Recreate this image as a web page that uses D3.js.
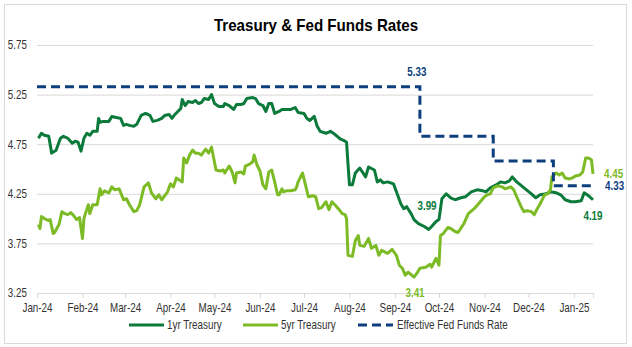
<!DOCTYPE html>
<html lang="en">
  <head>
    <meta charset="utf-8"/>
    <title>Treasury &amp; Fed Funds Rates</title>
    <script src="https://cdn.jsdelivr.net/npm/d3@7"></script>
    <style>
      body { margin: 0; background: #fff; }
      text { font-family: "Liberation Sans", Arial, sans-serif; }
    </style>
  </head>

  <body>
    <div id="chart-holder"></div>
    <script type="text/javascript">

      // 1yr Treasury yield (%)
      var oneYrDates = [
        "2024-01-02","2024-01-04","2024-01-06","2024-01-09","2024-01-11","2024-01-14","2024-01-17","2024-01-19","2024-01-22","2024-01-25","2024-01-27","2024-01-29","2024-01-31",
        "2024-02-02","2024-02-04","2024-02-06","2024-02-08","2024-02-11","2024-02-12","2024-02-13","2024-02-15","2024-02-19","2024-02-21","2024-02-24","2024-02-27","2024-02-29",
        "2024-03-02","2024-03-04","2024-03-07","2024-03-09","2024-03-12","2024-03-15","2024-03-18","2024-03-20","2024-03-23","2024-03-26","2024-03-28","2024-03-31",
        "2024-04-02","2024-04-04","2024-04-06","2024-04-08","2024-04-09","2024-04-11","2024-04-13","2024-04-16","2024-04-18","2024-04-20","2024-04-22","2024-04-24","2024-04-27","2024-04-29",
        "2024-05-01","2024-05-04","2024-05-07","2024-05-08","2024-05-11","2024-05-14","2024-05-16","2024-05-19","2024-05-21","2024-05-23","2024-05-27","2024-05-29","2024-05-31",
        "2024-06-03","2024-06-05","2024-06-07","2024-06-09","2024-06-11","2024-06-14","2024-06-16","2024-06-19","2024-06-22","2024-06-25","2024-06-27",
        "2024-07-01","2024-07-03","2024-07-05","2024-07-08","2024-07-10","2024-07-12","2024-07-16","2024-07-19","2024-07-22","2024-07-26","2024-07-29","2024-07-30","2024-07-31",
        "2024-08-01","2024-08-03","2024-08-05","2024-08-08","2024-08-12","2024-08-14","2024-08-18","2024-08-20","2024-08-22","2024-08-24","2024-08-27","2024-08-29","2024-08-31",
        "2024-09-02","2024-09-05","2024-09-07","2024-09-09","2024-09-12","2024-09-14","2024-09-17","2024-09-21","2024-09-24","2024-09-26","2024-09-29",
        "2024-10-01","2024-10-03","2024-10-06","2024-10-09","2024-10-12","2024-10-16","2024-10-19","2024-10-23","2024-10-27","2024-10-31",
        "2024-11-02","2024-11-05","2024-11-09","2024-11-12","2024-11-15","2024-11-18","2024-11-20","2024-11-23","2024-11-28",
        "2024-12-03","2024-12-06","2024-12-09","2024-12-13","2024-12-16","2024-12-20","2024-12-23","2024-12-26","2024-12-30",
        "2025-01-02","2025-01-06","2025-01-08","2025-01-11","2025-01-14"
      ];
      var oneYrValues = [
        4.81,4.86,4.84,4.83,4.66,4.69,4.81,4.83,4.81,4.76,4.78,4.77,4.68,
        4.81,4.86,4.84,4.88,4.88,5.01,4.97,4.98,4.98,5.03,5.02,5.01,4.94,
        4.95,4.94,4.93,4.95,5.04,5.06,5.04,4.98,4.99,5.01,5.04,5.05,
        5.01,5.05,5.08,5.11,5.20,5.14,5.18,5.17,5.19,5.16,5.17,5.21,5.20,5.25,
        5.16,5.13,5.13,5.16,5.14,5.10,5.15,5.15,5.16,5.21,5.22,5.21,5.16,
        5.14,5.08,5.16,5.16,5.06,5.08,5.10,5.10,5.10,5.12,5.07,
        5.06,5.01,4.99,5.03,4.93,4.88,4.86,4.88,4.85,4.80,4.78,4.77,4.55,
        4.34,4.34,4.46,4.51,4.42,4.52,4.49,4.37,4.39,4.36,4.37,4.36,4.35,
        4.27,4.15,4.10,4.12,4.05,3.99,3.95,3.92,3.89,3.92,3.97,
        3.99,4.20,4.25,4.21,4.19,4.21,4.22,4.27,4.29,4.28,
        4.27,4.31,4.34,4.37,4.36,4.38,4.42,4.37,4.31,
        4.25,4.21,4.24,4.25,4.27,4.26,4.24,4.19,4.17,
        4.17,4.18,4.26,4.23,4.19
      ];

      // 5yr Treasury yield (%)
      var fiveYrDates = [
        "2024-01-02","2024-01-03","2024-01-04","2024-01-06","2024-01-09","2024-01-10","2024-01-12","2024-01-13","2024-01-16","2024-01-18","2024-01-20","2024-01-22","2024-01-24","2024-01-26","2024-01-28","2024-01-30",
        "2024-02-01","2024-02-02","2024-02-03","2024-02-05","2024-02-06","2024-02-08","2024-02-11","2024-02-13","2024-02-14","2024-02-16","2024-02-19","2024-02-21","2024-02-23","2024-02-26","2024-02-29",
        "2024-03-02","2024-03-04","2024-03-07","2024-03-09","2024-03-11","2024-03-14","2024-03-17","2024-03-19","2024-03-22","2024-03-24","2024-03-26","2024-03-30",
        "2024-04-01","2024-04-03","2024-04-05","2024-04-08","2024-04-09","2024-04-10","2024-04-12","2024-04-14","2024-04-16","2024-04-18","2024-04-20","2024-04-22","2024-04-25","2024-04-27","2024-04-29",
        "2024-05-02","2024-05-05","2024-05-07","2024-05-08","2024-05-11","2024-05-13","2024-05-15","2024-05-16","2024-05-19","2024-05-21","2024-05-22","2024-05-25","2024-05-27","2024-05-28","2024-05-30",
        "2024-06-01","2024-06-03","2024-06-05","2024-06-07","2024-06-09","2024-06-11","2024-06-13","2024-06-14","2024-06-16","2024-06-17","2024-06-19","2024-06-22","2024-06-25","2024-06-26","2024-06-27","2024-06-30",
        "2024-07-02","2024-07-04","2024-07-07","2024-07-09","2024-07-11","2024-07-13","2024-07-16","2024-07-18","2024-07-20","2024-07-22","2024-07-25","2024-07-27","2024-07-29","2024-07-30","2024-07-31",
        "2024-08-03","2024-08-05","2024-08-07","2024-08-08","2024-08-11","2024-08-14","2024-08-16","2024-08-19","2024-08-21","2024-08-23","2024-08-27","2024-08-30",
        "2024-09-02","2024-09-04","2024-09-06","2024-09-08","2024-09-10","2024-09-14","2024-09-16","2024-09-18","2024-09-22","2024-09-25","2024-09-26","2024-09-29",
        "2024-10-01","2024-10-02","2024-10-04","2024-10-07","2024-10-09","2024-10-12","2024-10-14","2024-10-18","2024-10-21","2024-10-25","2024-10-28",
        "2024-11-01","2024-11-03","2024-11-05","2024-11-07","2024-11-10","2024-11-13","2024-11-15","2024-11-19","2024-11-21","2024-11-23","2024-11-26","2024-11-28","2024-11-30",
        "2024-12-03","2024-12-05","2024-12-07","2024-12-09","2024-12-12","2024-12-14","2024-12-16","2024-12-17","2024-12-20","2024-12-22","2024-12-24","2024-12-26","2024-12-29","2024-12-31",
        "2025-01-02","2025-01-05","2025-01-07","2025-01-09","2025-01-11","2025-01-13","2025-01-14"
      ];
      var fiveYrValues = [
        3.94,3.90,4.02,4.00,3.98,3.99,3.85,3.86,3.94,4.07,4.05,4.04,4.06,4.03,3.99,4.01,
        3.80,4.00,4.05,4.14,4.05,4.14,4.14,4.30,4.24,4.28,4.26,4.32,4.29,4.30,4.19,
        4.20,4.14,4.07,4.08,4.14,4.32,4.36,4.26,4.20,4.24,4.19,4.27,
        4.35,4.32,4.41,4.38,4.37,4.61,4.56,4.64,4.69,4.66,4.66,4.64,4.70,4.66,4.72,
        4.49,4.48,4.49,4.46,4.53,4.47,4.36,4.46,4.47,4.45,4.53,4.55,4.57,4.64,4.54,
        4.48,4.34,4.30,4.47,4.49,4.37,4.24,4.24,4.30,4.27,4.28,4.28,4.29,4.32,4.37,4.46,
        4.34,4.22,4.23,4.22,4.10,4.11,4.17,4.09,4.17,4.14,4.09,4.05,4.04,4.00,3.63,
        3.62,3.78,3.83,3.73,3.72,3.80,3.70,3.73,3.63,3.68,3.65,3.69,
        3.63,3.53,3.50,3.43,3.46,3.41,3.45,3.50,3.51,3.54,3.51,3.60,
        3.53,3.83,3.85,3.91,3.90,3.87,3.86,3.95,4.05,4.10,4.15,
        4.22,4.24,4.25,4.31,4.33,4.32,4.30,4.32,4.29,4.22,4.12,4.07,4.08,
        4.07,4.04,4.10,4.15,4.24,4.25,4.29,4.42,4.46,4.44,4.46,4.41,4.40,4.41,
        4.43,4.44,4.47,4.61,4.61,4.59,4.45
      ];

      // Effective Fed Funds Rate, one entry per change (step series)
      var fedDates = ["2024-01-01", "2024-09-18", "2024-11-07", "2024-12-18", "2025-01-14"];
      var fedValues = [5.33, 4.83, 4.58, 4.33, 4.33];

      var yTicks = [3.25, 3.75, 4.25, 4.75, 5.25, 5.75];
      var seriesNames = ["1yr Treasury", "5yr Treasury", "Effective Fed Funds Rate"];

      var oneYrColour = "#0b7a3b";
      var fiveYrColour = "#7cbb26";
      var fedColour = "#0d3f7e";

      var w = 632;
      var h = 347;
      var margin = {top: 45, right: 39, bottom: 54, left: 37};

      var parseDate = d3.timeParse("%Y-%m-%d");

      function toPoints(dates, values) {
        return dates.map(function(d, i) { return {date: parseDate(d), value: values[i]}; });
      }
      var oneYr = toPoints(oneYrDates, oneYrValues);
      var fiveYr = toPoints(fiveYrDates, fiveYrValues);
      var fed = toPoints(fedDates, fedValues);

      // only a regular width sans is available, so text is squeezed horizontally
      // about its own anchor to get the narrow face look
      function squeeze(selection, k) {
        selection.attr("transform", function() {
          var tx = +this.getAttribute("x") || 0;
          return "translate(" + tx + ",0) scale(" + k + ",1) translate(" + (-tx) + ",0)";
        });
      }

      var x = d3.scaleTime()
        .domain([parseDate("2024-01-01"), parseDate("2025-01-14")])
        .range([margin.left, w - margin.right])
      ;
      var y = d3.scaleLinear()
        .domain([3.25, 5.75])
        .range([h - margin.bottom, margin.top])
      ;

      var svg = d3.select("#chart-holder")
        .append("svg")
        .attr("width", w)
        .attr("height", h)
      ;

      // outer frame
      svg.append("rect")
        .attr("x", 4.5)
        .attr("y", 4.5)
        .attr("width", 622)
        .attr("height", 339)
        .attr("fill", "#fff")
        .attr("stroke", "#d9d9d9")
      ;

      svg.append("text")
        .attr("x", 316)
        .attr("y", 31)
        .attr("text-anchor", "middle")
        .style("font-size", "17px")
        .style("font-weight", "bold")
        .attr("fill", "#000")
        .text("Treasury & Fed Funds Rates")
        .call(squeeze, 0.89)
      ;

      // horizontal gridlines
      svg.append("g")
        .attr("transform", "translate(" + margin.left + ",0)")
        .call(d3.axisLeft(y).tickValues(yTicks).tickSize(-(w - margin.left - margin.right)).tickFormat(""))
        .call(function(g) { g.select(".domain").remove(); })
        .selectAll("line")
        .attr("stroke", "#d9d9d9")
      ;

      // y axis labels
      var yAxis = svg.append("g")
        .attr("transform", "translate(" + margin.left + ",0)")
        .call(d3.axisLeft(y).tickValues(yTicks).tickSize(0).tickPadding(10).tickFormat(d3.format(".2f")))
      ;
      yAxis.select(".domain").remove();
      yAxis.selectAll("text")
        .style("font-size", "12px")
        .attr("fill", "#333")
        .call(squeeze, 0.82)
      ;

      // x axis: month ticks
      var xAxis = svg.append("g")
        .attr("transform", "translate(0," + y(3.25) + ")")
        .call(d3.axisBottom(x).ticks(d3.timeMonth.every(1)).tickSize(5).tickPadding(5).tickFormat(d3.timeFormat("%b-%y")))
      ;
      xAxis.select(".domain").attr("stroke", "#d9d9d9");
      xAxis.selectAll("line").attr("stroke", "#d9d9d9");
      xAxis.selectAll("text")
        .style("font-size", "12px")
        .attr("fill", "#333")
        .call(squeeze, 0.82)
      ;

      var line = d3.line()
        .x(function(d) { return x(d.date); })
        .y(function(d) { return y(d.value); })
      ;
      var stepLine = d3.line()
        .curve(d3.curveStepAfter)
        .x(function(d) { return x(d.date); })
        .y(function(d) { return y(d.value); })
      ;

      svg.append("path")
        .datum(oneYr)
        .attr("d", line)
        .attr("fill", "none")
        .attr("stroke", oneYrColour)
        .attr("stroke-width", 3)
        .attr("stroke-linejoin", "round")
      ;
      svg.append("path")
        .datum(fiveYr)
        .attr("d", line)
        .attr("fill", "none")
        .attr("stroke", fiveYrColour)
        .attr("stroke-width", 3)
        .attr("stroke-linejoin", "round")
      ;
      svg.append("path")
        .datum(fed)
        .attr("d", stepLine)
        .attr("fill", "none")
        .attr("stroke", fedColour)
        .attr("stroke-width", 3)
        .attr("stroke-dasharray", "9,5")
      ;

      // value labels on selected points
      function pointAt(series, dateStr) {
        var t = parseDate(dateStr).getTime();
        return series.find(function(d) { return d.date.getTime() === t; });
      }
      // the 5.33 label sits at the end of the first fed step, just before the cut
      var fedHigh = {date: fed[1].date, value: fed[0].value};
      var labels = [
        {p: fedHigh, colour: fedColour, anchor: "middle", dx: -3, dy: -11},
        {p: pointAt(oneYr, "2024-09-14"), colour: oneYrColour, anchor: "middle", dx: 13, dy: -10},
        {p: pointAt(fiveYr, "2024-09-14"), colour: fiveYrColour, anchor: "middle", dx: 1, dy: 20},
        {p: fiveYr[fiveYr.length - 1], colour: fiveYrColour, anchor: "start", dx: 11, dy: 4},
        {p: fed[fed.length - 1], colour: fedColour, anchor: "start", dx: 12, dy: 4},
        {p: oneYr[oneYr.length - 1], colour: oneYrColour, anchor: "middle", dx: 0, dy: 20}
      ];
      svg.selectAll(".valueLabel")
        .data(labels)
        .enter()
        .append("text")
        .attr("class", "valueLabel")
        .attr("x", function(d) { return x(d.p.date) + d.dx; })
        .attr("y", function(d) { return y(d.p.value) + d.dy; })
        .attr("text-anchor", function(d) { return d.anchor; })
        .attr("fill", function(d) { return d.colour; })
        .style("font-size", "12px")
        .style("font-weight", "bold")
        .text(function(d) { return d.p.value.toFixed(2); })
        .call(squeeze, 0.82)
      ;

      // legend
      var legendItems = [
        {name: seriesNames[0], colour: oneYrColour, dash: null, x: 129},
        {name: seriesNames[1], colour: fiveYrColour, dash: null, x: 243},
        {name: seriesNames[2], colour: fedColour, dash: "9,5", x: 358}
      ];
      var legend = svg.selectAll(".legendItem")
        .data(legendItems)
        .enter()
        .append("g")
        .attr("class", "legendItem")
        .attr("transform", function(d) { return "translate(" + d.x + ",325)"; })
      ;
      legend.append("line")
        .attr("x1", 0)
        .attr("x2", 35)
        .attr("stroke", function(d) { return d.colour; })
        .attr("stroke-width", 3)
        .attr("stroke-dasharray", function(d) { return d.dash; })
      ;
      legend.append("text")
        .attr("x", function(d) { return d.dash ? 39 : 38; })
        .attr("y", 4)
        .style("font-size", "12px")
        .attr("fill", "#333")
        .text(function(d) { return d.name; })
        .call(squeeze, 0.82)
      ;
    </script>
  </body>
</html>
